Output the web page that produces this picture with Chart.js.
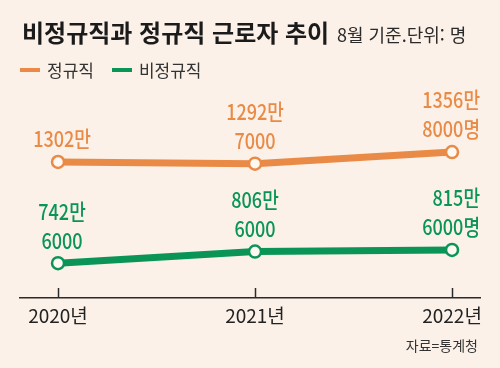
<!DOCTYPE html>
<html lang="ko">
<head>
<meta charset="UTF-8">
<title>비정규직과 정규직 근로자 추이</title>
<script src="https://cdn.jsdelivr.net/npm/chart.js"></script>
<style>
  body { margin: 0; background: #fbf1e8; font-family: 'Noto Sans CJK KR', sans-serif; }
  .wrap { position: relative; width: 500px; height: 368px; overflow: hidden; }
  #chart { position: absolute; left: 0; top: 0; }
  .title { position: absolute; left: 22px; top: 18px; font-size: 24px; font-weight: 700; line-height: 28px; color: #1b1b1b; white-space: nowrap; }
  .title small { font-size: 18px; font-weight: 400; color: #2a2a2a; margin-left: 1px; }
  .legend { position: absolute; left: 20px; top: 58px; font-size: 17px; line-height: 24px; color: #333; display: flex; align-items: center; }
  .legend i { display: inline-block; width: 20px; height: 4px; margin-right: 7px; }
  .legend span { margin-right: 18px; }
  .source { position: absolute; right: 22px; top: 335px; font-size: 14px; line-height: 20px; color: #333; }
</style>
</head>
<body>
<div class="wrap">
  <canvas id="chart" width="500" height="368"></canvas>
  <div class="title">비정규직과 정규직 근로자 추이 <small>8월 기준.단위: 명</small></div>
  <div class="legend">
    <i style="background:#e98b47"></i><span>정규직</span>
    <i style="background:#0a9557"></i><span>비정규직</span>
  </div>
  <div class="source">자료=통계청</div>
</div>

<script>
  // 데이터 (단위: 만 명)
  const categories = ['2020년', '2021년', '2022년'];
  const regular = [1302.0, 1292.7, 1356.8];
  const nonRegular = [742.6, 806.6, 815.6];
  const regularText = [['1302만'], ['1292만', '7000'], ['1356만', '8000명']];
  const nonRegularText = [['742만', '6000'], ['806만', '6000'], ['815만', '6000명']];

  const ORANGE = '#e98b47';
  const GREEN = '#0a9557';

  // 값 라벨
  const valueLabels = {
    id: 'valueLabels',
    afterDatasetsDraw(chart) {
      const ctx = chart.ctx;
      const area = chart.chartArea;
      chart.data.datasets.forEach((ds, di) => {
        const pts = chart.getDatasetMeta(di).data;
        pts.forEach((pt, i) => {
          const lines = ds.valueText[i];
          const last = i === pts.length - 1;
          ctx.save();
          ctx.font = '500 22px "Noto Sans CJK KR"';
          ctx.fillStyle = ds.borderColor;
          ctx.textBaseline = 'middle';
          ctx.textAlign = last ? 'right' : 'center';
          ctx.translate(last ? area.right : pt.x + (i === 0 ? 4 : 0), 0);
          ctx.scale(0.82, 1);
          lines.forEach((t, li) => {
            ctx.fillText(t, 0, pt.y - 23 - (lines.length - 1 - li) * 29);
          });
          ctx.restore();
        });
      });
    }
  };

  // x축 눈금 (위쪽으로)
  const tickMarks = {
    id: 'tickMarks',
    afterDraw(chart) {
      const x = chart.scales.x;
      const ctx = chart.ctx;
      ctx.save();
      ctx.strokeStyle = '#2a2a2a';
      ctx.lineWidth = 1.5;
      x.ticks.forEach(t => {
        const px = Math.round(x.getPixelForValue(t.value)) + 0.5;
        ctx.beginPath();
        ctx.moveTo(px, x.top - 10);
        ctx.lineTo(px, x.top);
        ctx.stroke();
      });
      ctx.restore();
    }
  };

  const pointStyle = {
    pointRadius: 6,
    pointHoverRadius: 6,
    pointBorderWidth: 2.5,
    pointBackgroundColor: '#fdf8f2',
    borderWidth: 7,
    tension: 0,
    fill: false
  };

  new Chart(document.getElementById('chart'), {
    type: 'line',
    data: {
      datasets: [
        Object.assign({
          label: '정규직',
          data: regular.map((v, i) => ({ x: i, y: v })),
          borderColor: ORANGE,
          pointBorderColor: ORANGE,
          valueText: regularText
        }, pointStyle),
        Object.assign({
          label: '비정규직',
          data: nonRegular.map((v, i) => ({ x: i, y: v })),
          borderColor: GREEN,
          pointBorderColor: GREEN,
          valueText: nonRegularText
        }, pointStyle)
      ]
    },
    options: {
      responsive: false,
      animation: false,
      layout: { padding: { top: 90, left: 20, right: 20, bottom: 30 } },
      plugins: {
        legend: { display: false },
        title: { display: false },
        tooltip: { enabled: false }
      },
      scales: {
        x: {
          type: 'linear',
          min: -0.193,
          max: 2.142,
          afterBuildTicks: s => { s.ticks = categories.map((c, i) => ({ value: i })); },
          afterFit: s => { s.height = 40; },
          grid: { display: false, drawTicks: false },
          border: { display: true, color: '#2a2a2a', width: 1.5 },
          ticks: {
            padding: 6,
            color: '#222',
            autoSkip: false,
            maxRotation: 0,
            font: { family: "'Noto Sans CJK KR'", size: 19 },
            callback: v => categories[v] || ''
          }
        },
        y: { display: false, min: 550, max: 1700 }
      }
    },
    plugins: [valueLabels, tickMarks]
  });
</script>
</body>
</html>
